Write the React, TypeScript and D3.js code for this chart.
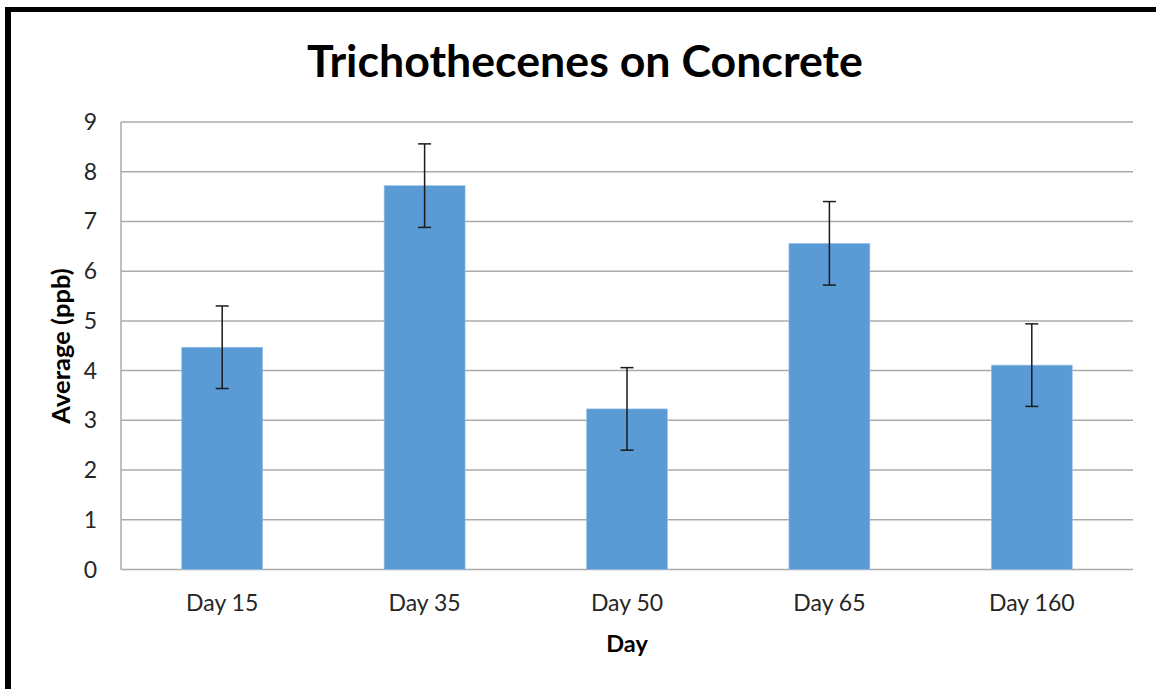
import React from "react";
import * as d3 from "d3";

const categories = ["Day 15", "Day 35", "Day 50", "Day 65", "Day 160"];
const averages = [4.47, 7.72, 3.23, 6.56, 4.11];
const errors = [0.83, 0.84, 0.83, 0.84, 0.83];
const yTicks = [0, 1, 2, 3, 4, 5, 6, 7, 8, 9];

const W = 1156;
const H = 689;
const left = 121;
const right = 1133;
const top = 122;
const bottom = 569.5;
const font = "Lato, 'Open Sans', sans-serif";

export default function App() {
  const x = d3.scaleBand<string>().domain(categories).range([left, right]).paddingInner(0.6).paddingOuter(0.3);
  const y = d3.scaleLinear().domain([0, 9]).range([bottom, top]);
  const cap = 6.5;
  return (
    <svg width={W} height={H} style={{ position: "absolute", left: 0, top: 0, background: "#fff" }}>
      <rect x={0} y={0} width={W} height={H} fill="#fff" />
      {/* frame */}
      <line x1={5} x2={W} y1={9.5} y2={9.5} stroke="#000" strokeWidth={5} />
      <line x1={8} x2={8} y1={7} y2={H} stroke="#000" strokeWidth={6} />
      {/* gridlines */}
      {yTicks.map((t) => (
        <line key={t} x1={left} x2={right} y1={y(t)} y2={y(t)} stroke="#ABABAB" strokeWidth={1.5} />
      ))}
      <line x1={left} x2={left} y1={top} y2={bottom} stroke="#ABABAB" strokeWidth={1.5} />
      {/* bars */}
      {categories.map((c, i) => (
        <rect key={c} x={x(c)} y={y(averages[i])} width={x.bandwidth()} height={y(0) - y(averages[i])} fill="#5B9BD5" stroke="#9DC3E6" strokeWidth={0.6} />
      ))}
      {/* error bars */}
      {categories.map((c, i) => {
        const cx = (x(c) as number) + x.bandwidth() / 2;
        const hi = y(averages[i] + errors[i]);
        const lo = y(averages[i] - errors[i]);
        return (
          <g key={c} stroke="#1a1a1a" strokeWidth={1.5}>
            <line x1={cx} x2={cx} y1={hi} y2={lo} />
            <line x1={cx - cap} x2={cx + cap} y1={hi} y2={hi} />
            <line x1={cx - cap} x2={cx + cap} y1={lo} y2={lo} />
          </g>
        );
      })}
      {/* y tick labels */}
      {yTicks.map((t) => (
        <text key={t} x={97} y={y(t)} dy="0.35em" textAnchor="end" fontFamily={font} fontSize={23} fill="#262626">
          {t}
        </text>
      ))}
      {/* x tick labels */}
      {categories.map((c) => (
        <text key={c} x={(x(c) as number) + x.bandwidth() / 2} y={611} textAnchor="middle" fontFamily={font} fontSize={23} fill="#262626">
          {c}
        </text>
      ))}
      {/* titles */}
      <text x={585} y={77} textAnchor="middle" fontFamily={font} fontWeight="bold" fontSize={44.7} fill="#000">
        Trichothecenes on Concrete
      </text>
      <text x={627} y={652} textAnchor="middle" fontFamily={font} fontWeight="bold" fontSize={23.5} fill="#000">
        Day
      </text>
      <text transform="translate(70,346) rotate(-90)" textAnchor="middle" fontFamily={font} fontWeight="bold" fontSize={25.5} fill="#000">
        Average (ppb)
      </text>
    </svg>
  );
}
